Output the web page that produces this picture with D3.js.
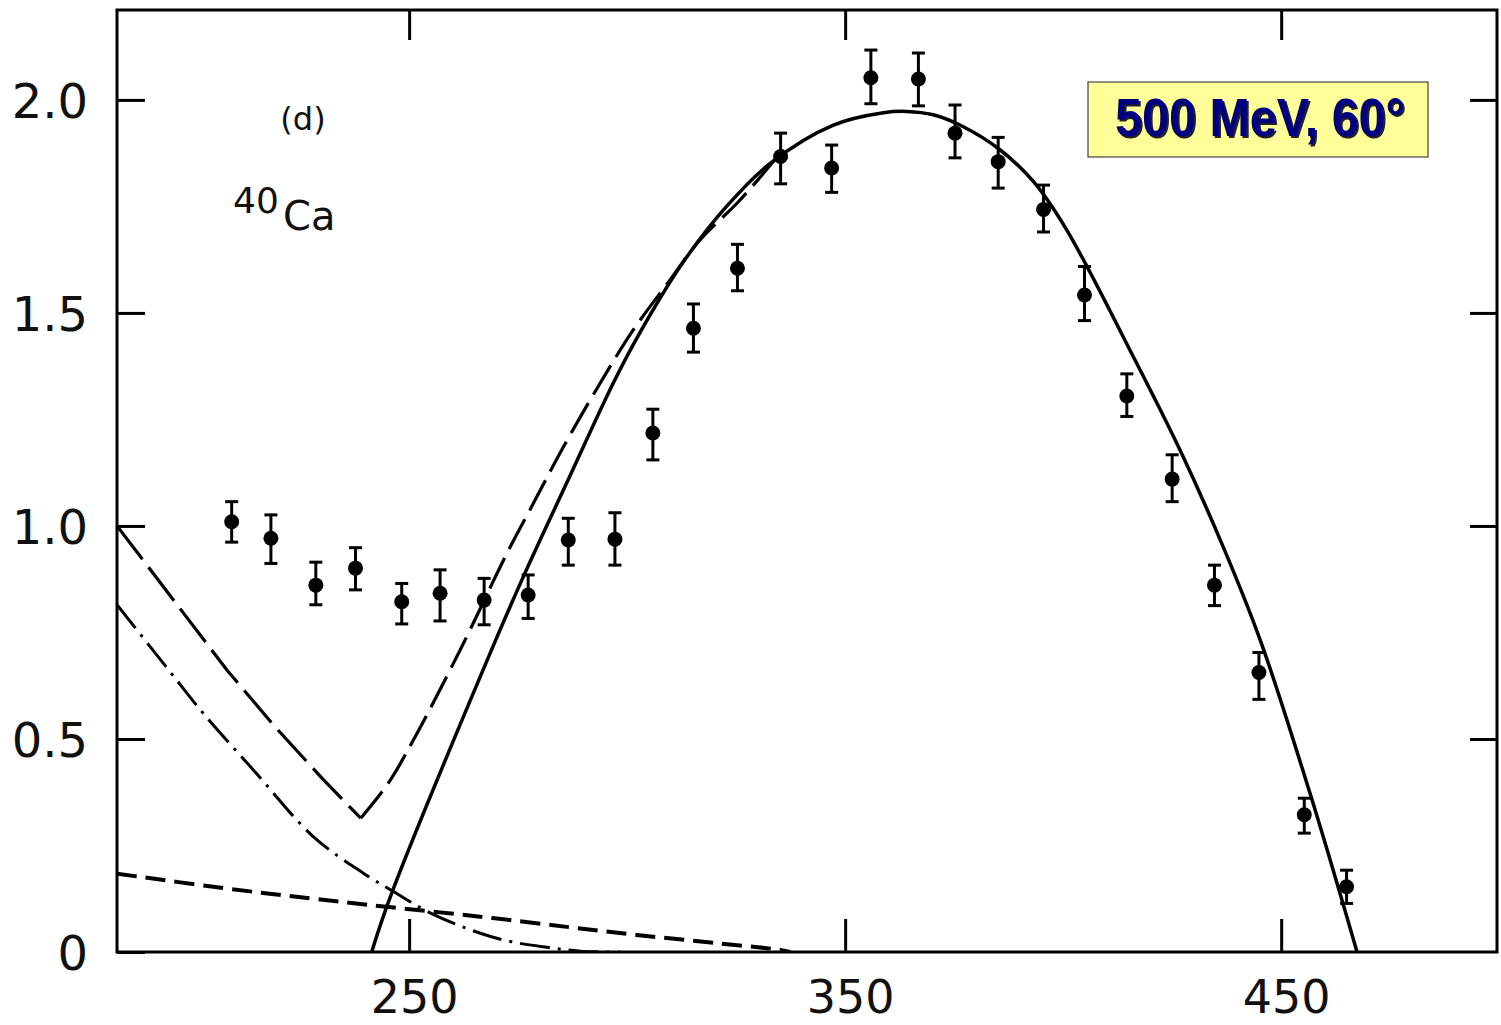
<!DOCTYPE html>
<html>
<head>
<meta charset="utf-8">
<script src="https://cdn.jsdelivr.net/npm/d3@7"></script>
<style>
  body { margin: 0; background: #fff; }
  svg { display: block; }
</style>
</head>
<body>
<svg id="chart" width="1501" height="1025"></svg>
<script>
// Measured spectrum: energy loss (MeV) and cross section with error limits
const energy = [209.3, 218.3, 228.6, 237.7, 248.3, 257.1, 267.2, 277.3, 286.5, 297.2,
                305.9, 315.2, 325.3, 335.2, 346.9, 355.9, 366.8, 375.2, 385.1, 395.5,
                404.9, 414.6, 425.0, 434.7, 444.9, 455.3, 465.0];
const crossSection = [1.010, 0.971, 0.861, 0.901, 0.822, 0.842, 0.826, 0.838, 0.967, 0.969,
                      1.218, 1.464, 1.605, 1.867, 1.840, 2.052, 2.049, 1.922, 1.855, 1.743,
                      1.542, 1.305, 1.110, 0.861, 0.656, 0.322, 0.153];
const errLow = [0.962, 0.912, 0.815, 0.850, 0.770, 0.777, 0.768, 0.783, 0.908, 0.908,
                1.155, 1.408, 1.552, 1.803, 1.783, 1.991, 1.986, 1.864, 1.793, 1.690,
                1.482, 1.257, 1.057, 0.813, 0.593, 0.279, 0.114];
const errHigh = [1.057, 1.026, 0.915, 0.949, 0.865, 0.897, 0.877, 0.885, 1.018, 1.031,
                 1.274, 1.521, 1.661, 1.922, 1.894, 2.117, 2.110, 1.988, 1.912, 1.800,
                 1.609, 1.357, 1.167, 0.908, 0.703, 0.361, 0.192];

// Quasielastic calculation (solid)
const qeX = [241.4, 246.0, 268.9, 276.2, 286.1, 296.8, 303.0, 312.9, 322.8, 332.8,
             347.3, 358.8, 364.1, 370.2, 377.1, 385.5, 393.2, 400.8, 416.1,
             426.8, 436.7, 445.2, 456.6, 467.4];
const qeY = [0, 0.138, 0.709, 0.881, 1.100, 1.335, 1.455, 1.620, 1.750, 1.851,
             1.941, 1.970, 1.973, 1.965, 1.937, 1.883, 1.808, 1.695, 1.397,
             1.178, 0.951, 0.732, 0.373, 0];

// Sum of contributions (long dashes)
const totalX = [183, 208.2, 219.2, 230.0, 238.9, 245.2, 251.0, 261.7, 272.4,
                278.5, 285.4, 293.8, 301.4, 309.8, 316.7, 325.9, 335.8];
const totalY = [1.0, 0.662, 0.529, 0.408, 0.314, 0.396, 0.498, 0.709, 0.935,
                1.053, 1.186, 1.335, 1.460, 1.577, 1.671, 1.765, 1.883];

// Dash-dot contribution
const dashDotX = [183, 196.7, 202.8, 215.0, 228.0, 239.5, 246.4, 254.8, 266.3, 273.5,
                  281.6, 289.2, 298.4];
const dashDotY = [0.815, 0.638, 0.560, 0.419, 0.271, 0.185, 0.142, 0.092, 0.044, 0.024,
                  0.011, 0.002, 0];

// Short-dash contribution
const shortDashX = [183, 207.4, 227.3, 244.9, 266.3, 286.1, 302.2, 321.3, 335.1, 337.4];
const shortDashY = [0.184, 0.150, 0.126, 0.106, 0.083, 0.059, 0.040, 0.020, 0.005, 0];

const xTicks = [250, 350, 450];
const xTickLabels = ["250", "350", "450"];
const yTicks = [0, 0.5, 1.0, 1.5, 2.0];
const yTickLabels = ["0", "0.5", "1.0", "1.5", "2.0"];

const plot = { left: 117, right: 1497, top: 10, bottom: 952 };
const svg = d3.select("#chart");
const labelFont = "'DejaVu Sans', 'Liberation Sans', sans-serif";

const x = d3.scaleLinear().domain([183, 499.5]).range([plot.left, plot.right]);
const y = d3.scaleLinear().domain([0, 2.211]).range([plot.bottom, plot.top]);

svg.append("defs").append("clipPath").attr("id", "plotClip")
  .append("rect")
  .attr("x", plot.left).attr("y", plot.top)
  .attr("width", plot.right - plot.left).attr("height", plot.bottom - plot.top);

// Axes with inward ticks on all four sides
const styleAxis = fontSize => g => {
  g.select(".domain").remove();
  g.selectAll(".tick line").attr("stroke", "#000").attr("stroke-width", 3);
  g.selectAll(".tick text")
    .attr("fill", "#111")
    .style("font-family", labelFont)
    .style("font-size", fontSize);
};

svg.append("g")
  .attr("transform", `translate(${plot.left},0)`)
  .call(d3.axisLeft(y).tickValues(yTicks).tickSize(-28).tickPadding(29)
    .tickFormat((d, i) => yTickLabels[i]))
  .call(styleAxis("48px"))
  .selectAll(".tick text").attr("dy", "0.36em");

svg.append("g")
  .attr("transform", `translate(${plot.right},0)`)
  .call(d3.axisRight(y).tickValues(yTicks.slice(1)).tickSize(-27).tickFormat(""))
  .call(styleAxis("48px"));

svg.append("g")
  .attr("transform", `translate(0,${plot.bottom})`)
  .call(d3.axisBottom(x).tickValues(xTicks).tickSize(-33).tickPadding(28)
    .tickFormat((d, i) => xTickLabels[i]))
  .call(styleAxis("46px"))
  .selectAll(".tick text").attr("dx", 5).attr("dy", "0.72em");

svg.append("g")
  .attr("transform", `translate(0,${plot.top})`)
  .call(d3.axisTop(x).tickValues(xTicks).tickSize(-30).tickFormat(""))
  .call(styleAxis("48px"));

// Frame
svg.append("rect")
  .attr("x", plot.left).attr("y", plot.top)
  .attr("width", plot.right - plot.left).attr("height", plot.bottom - plot.top)
  .attr("fill", "none").attr("stroke", "#000").attr("stroke-width", 3);

// Theory curves
const curves = svg.append("g").attr("clip-path", "url(#plotClip)");
const smooth = d3.curveCatmullRom.alpha(0.5);

const drawCurve = (pts, dash, width, curve) => {
  curves.append("path")
    .datum(pts)
    .attr("fill", "none")
    .attr("stroke", "#000")
    .attr("stroke-width", width)
    .attr("stroke-dasharray", dash)
    .attr("stroke-linejoin", "miter")
    .attr("d", d3.line().x(d => x(d[0])).y(d => y(d[1])).curve(curve));
};
const zipPts = (xs, ys) => xs.map((v, i) => [v, ys[i]]);

drawCurve(zipPts(shortDashX, shortDashY), "20,9", 4, smooth);
drawCurve(zipPts(dashDotX, dashDotY), "30,8,3,8", 3, smooth);

// The summed curve has a sharp minimum: draw each branch smoothly, meeting at the corner
const totalPts = zipPts(totalX, totalY);
const vIndex = d3.minIndex(totalY);
drawCurve(totalPts.slice(0, vIndex + 1), "42,10", 3.2, d3.curveLinear);
drawCurve(totalPts.slice(vIndex), "34,10", 3.2, smooth);

drawCurve(zipPts(qeX, qeY), null, 3.5, smooth);

// Data points with error bars
const points = svg.append("g");
const capHalf = 6.5;
energy.forEach((e, i) => {
  const cx = x(e);
  points.append("line")
    .attr("x1", cx).attr("x2", cx)
    .attr("y1", y(errLow[i])).attr("y2", y(errHigh[i]))
    .attr("stroke", "#000").attr("stroke-width", 3);
  [errLow[i], errHigh[i]].forEach(v => {
    points.append("line")
      .attr("x1", cx - capHalf).attr("x2", cx + capHalf)
      .attr("y1", y(v)).attr("y2", y(v))
      .attr("stroke", "#000").attr("stroke-width", 3);
  });
  points.append("circle")
    .attr("cx", cx).attr("cy", y(crossSection[i]))
    .attr("r", 7.5).attr("fill", "#000");
});

// Panel annotations
svg.append("text")
  .attr("x", 303).attr("y", 130)
  .attr("text-anchor", "middle")
  .style("font-family", labelFont).style("font-size", "32px")
  .attr("fill", "#111")
  .text("(d)");

svg.append("text")
  .attr("x", 233).attr("y", 213)
  .style("font-family", labelFont).style("font-size", "36px")
  .attr("fill", "#111")
  .text("40");
svg.append("text")
  .attr("x", 283).attr("y", 230)
  .style("font-family", labelFont).style("font-size", "40px")
  .attr("fill", "#111")
  .text("Ca");

// Beam energy and angle box
const box = svg.append("g");
box.append("rect")
  .attr("x", 1088).attr("y", 82).attr("width", 340).attr("height", 75)
  .attr("fill", "#ffff99").attr("stroke", "#444").attr("stroke-width", 1.2);
box.append("text")
  .attr("x", 1117).attr("y", 138)
  .attr("textLength", 290).attr("lengthAdjust", "spacingAndGlyphs")
  .style("font-family", "'Liberation Sans', Arial, sans-serif")
  .style("font-weight", "bold").style("font-size", "54px")
  .attr("fill", "#222")
  .text("500 MeV, 60°");
box.append("text")
  .attr("x", 1115).attr("y", 136)
  .attr("textLength", 290).attr("lengthAdjust", "spacingAndGlyphs")
  .style("font-family", "'Liberation Sans', Arial, sans-serif")
  .style("font-weight", "bold").style("font-size", "54px")
  .attr("fill", "#000080")
  .text("500 MeV, 60°");
</script>
</body>
</html>
